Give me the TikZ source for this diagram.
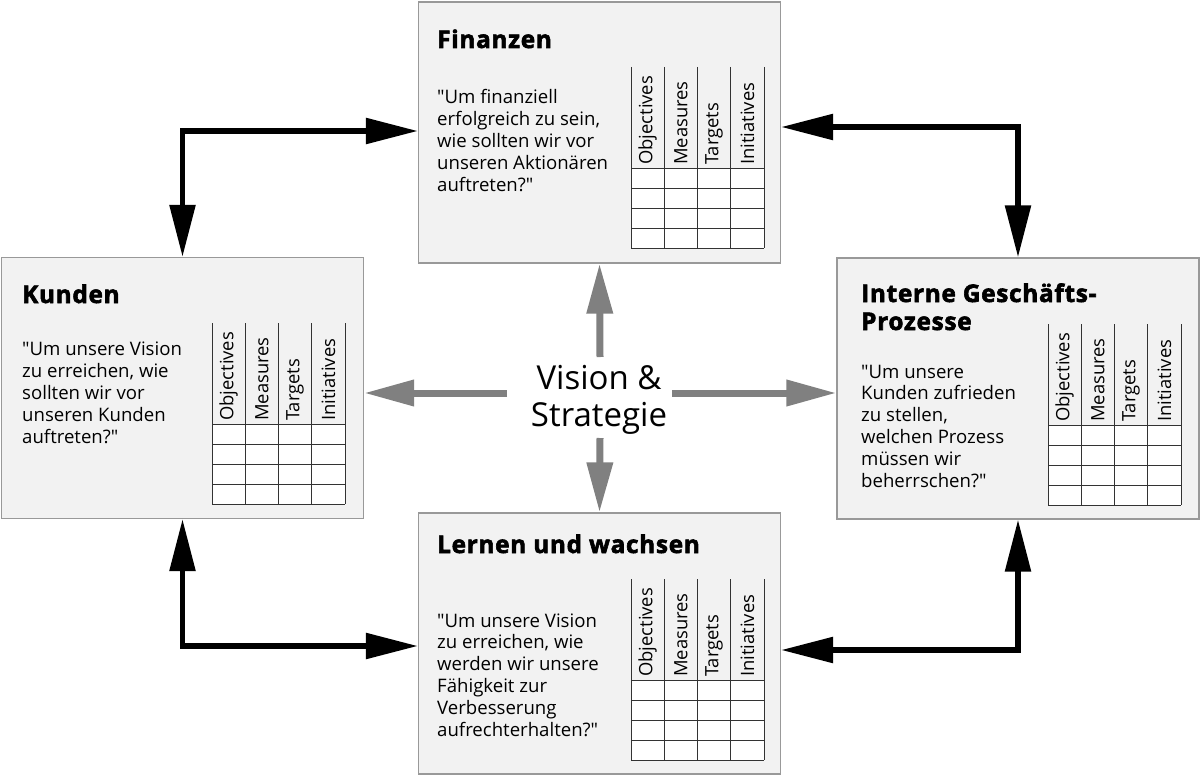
\documentclass[tikz,border=0pt]{standalone}
\usepackage{fontspec}
\setmainfont{Open Sans}[Ligatures=TeXOff]
\newfontfamily\ttlfont{Open Sans}[Ligatures=TeXOff, LetterSpace=3, FakeBold=2.5]
\usetikzlibrary{arrows.meta}
\tikzset{
  bscbox/.style={draw=black!40, fill=black!5, line width=1.2pt, minimum width=362pt, minimum height=261pt, inner sep=0pt},
  ttl/.style={anchor=base west, font=\fontsize{24.3}{28}\ttlfont\bfseries, inner sep=0pt, align=left},
  qtxt/.style={anchor=base west, font=\fontsize{18.6}{21.8}\selectfont, inner sep=0pt, align=left},
  hdr/.style={rotate=90, anchor=west, font=\fontsize{18.4}{20}\selectfont, inner sep=0pt},
  tbl/.style={draw=black!80, line width=1pt},
  link/.style={line width=5.5pt, {Triangle[length=52pt,width=25pt]}-{Triangle[length=52pt,width=25pt]}},
  ray/.style={line width=7pt, draw=black!50, -{Triangle[length=50pt,width=25pt]}},
}
\newcommand\bsctable[3]{%
  \fill[white] (#2,#3+101) rectangle (#2+133,#3+181);
  \foreach \k in {0,...,4} \draw[tbl] (#2+\k*33.25,#3) -- (#2+\k*33.25,#3+181);
  \foreach \j in {0,...,4} \draw[tbl] (#2,#3+101+\j*20) -- (#2+133,#3+101+\j*20);
  \foreach \t [count=\i from 0] in {Objectives,Measures,Targets,Initiatives}
    \node[hdr] (#1-\i) at (#2+\i*33.25+16.6,#3+98) {\t};
}
\begin{document}
\begin{tikzpicture}[x=1pt,y=-1pt]
\useasboundingbox (0,0) rectangle (1200,776);
% boxes
\node[bscbox] (fin) at (599.5,132.5) {};
\node[bscbox] (kun) at (182.5,388) {};
\node[bscbox] (int) at (1018,388.5) {};
\node[bscbox] (lern) at (599.5,643.5) {};
% titles (anchor = baseline of last line)
\node[ttl] (finT) at (437,48) {Finanzen};
\node[ttl] (kunT) at (22,303) {Kunden};
\node[ttl] (intT) at (861,330) {Interne Geschäfts-\\Prozesse};
\node[ttl] (lernT) at (437,553) {Lernen und wachsen};
% questions (anchor = baseline of last line)
\node[qtxt] (finQ) at (437,191) {"Um finanziell\\erfolgreich zu sein,\\wie sollten wir vor\\unseren Aktionären\\auftreten?"};
\node[qtxt] (kunQ) at (22,443) {"Um unsere Vision\\zu erreichen, wie\\sollten wir vor\\unseren Kunden\\auftreten?"};
\node[qtxt] (intQ) at (861,487) {"Um unsere\\Kunden zufrieden\\zu stellen,\\welchen Prozess\\müssen wir\\beherrschen?"};
\node[qtxt] (lernQ) at (437,736) {"Um unsere Vision\\zu erreichen, wie\\werden wir unsere\\Fähigkeit zur\\Verbesserung\\aufrechterhalten?"};
% tables
\bsctable{finTab}{631}{67}
\bsctable{kunTab}{212}{323}
\bsctable{intTab}{1048}{324}
\bsctable{lernTab}{631}{579}
% centre
\node[font=\fontsize{33}{37}\selectfont, align=center, inner sep=0pt] (vs) at (599,400) {Vision \&\\Strategie};
\coordinate (vsN) at (600,357);
\coordinate (vsS) at (600,438);
\coordinate (vsW) at (507,393);
\coordinate (vsE) at (672,393);
\draw[ray] (vsN) -- (fin.south);
\draw[ray] (vsS) -- (lern.north);
\draw[ray] (vsW) -- (vsW -| kun.east);
\draw[ray] (vsE) -- (vsE -| int.west);
% links
\draw[link] ([yshift=1.5pt]fin.west) -| (kun.north);
\draw[link] ([yshift=5.5pt]fin.east) -| (int.north);
\draw[link] (kun.south) |- ([yshift=-2.5pt]lern.west);
\draw[link] ([yshift=-6.5pt]lern.east) -| (int.south);
\end{tikzpicture}
\end{document}
